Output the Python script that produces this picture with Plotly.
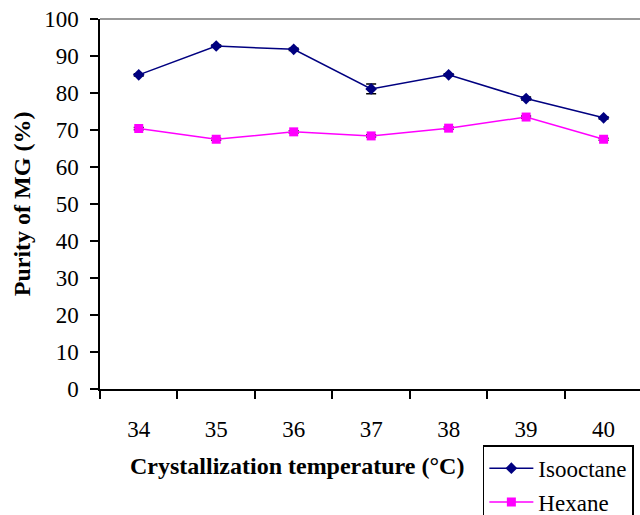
import plotly.graph_objects as go

temps = ["34", "35", "36", "37", "38", "39", "40"]
isooctane = [84.9, 92.7, 91.8, 81.1, 84.9, 78.5, 73.3]
isooctane_err = [0.3, 0.3, 0.3, 1.3, 0.3, 0.4, 0.3]
hexane = [70.4, 67.5, 69.5, 68.4, 70.5, 73.5, 67.5]
hexane_err = [0.3, 0.3, 0.3, 0.3, 0.3, 0.3, 0.3]
yticks = [0, 10, 20, 30, 40, 50, 60, 70, 80, 90, 100]

FONT = "Liberation Serif, Times New Roman, serif"

fig = go.Figure()
fig.add_trace(go.Scatter(
    x=temps, y=isooctane, name="Isooctane", mode="lines+markers", legendgroup="a",
    line=dict(color="#000080", width=1.5),
    marker=dict(symbol="diamond", size=9, color="#000080"),
    error_y=dict(type="data", array=isooctane_err, color="black", thickness=1.5, width=5),
))
fig.add_trace(go.Scatter(
    x=temps, y=hexane, name="Hexane", mode="lines+markers", legendgroup="b",
    line=dict(color="#FF00FF", width=1.5),
    marker=dict(symbol="square", size=9, color="#FF00FF"),
    error_y=dict(type="data", array=hexane_err, color="black", thickness=1.5, width=5),
))

fig.update_layout(
    width=640, height=515, autosize=False,
    margin=dict(l=100, r=0, t=19, b=126, autoexpand=False),
    paper_bgcolor="white", plot_bgcolor="white",
    font=dict(family=FONT, size=23, color="black"),
    showlegend=True,
    legend=dict(
        x=0.709, y=-0.152, xanchor="left", yanchor="top",
        bordercolor="black", borderwidth=1.5, bgcolor="white",
        font=dict(family=FONT, size=23, color="black"),
        itemwidth=44, tracegroupgap=1,
    ),
    xaxis=dict(
        type="category", range=[-0.5, 6.47],
        showline=True, linecolor="black", linewidth=1.5,
        ticks="outside", ticklen=8, tickcolor="black", tickwidth=1.5,
        tickson="boundaries", showgrid=False, zeroline=False,
        ticklabelstandoff=19,
        tickfont=dict(family=FONT, size=23),
    ),
    yaxis=dict(
        range=[0, 100], tickvals=yticks,
        showline=True, linecolor="black", linewidth=1.5,
        ticks="outside", ticklen=8, tickcolor="black", tickwidth=1.5,
        showgrid=False, zeroline=False, ticklabelstandoff=7,
        tickfont=dict(family=FONT, size=23),
    ),
    shapes=[dict(type="line", xref="paper", yref="paper", x0=0, x1=1, y0=1, y1=1,
                 line=dict(color="#999999", width=2))],
    annotations=[
        dict(text="<b>Crystallization temperature (°C)</b>", xref="paper", yref="paper",
             x=0.365, y=-0.208, xanchor="center", yanchor="middle", showarrow=False,
             font=dict(family=FONT, size=24)),
        dict(text="<b>Purity of MG (%)</b>", xref="paper", yref="paper",
             x=-0.144, y=0.5, xanchor="center", yanchor="middle", showarrow=False,
             textangle=-90, font=dict(family=FONT, size=24)),
    ],
)

fig.write_html("out.html")
